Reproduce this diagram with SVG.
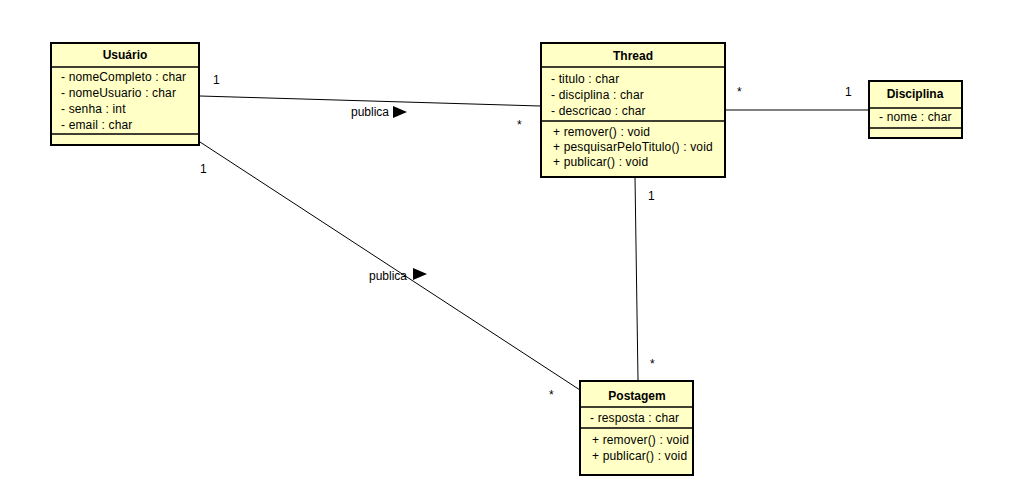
<svg xmlns="http://www.w3.org/2000/svg" width="1012" height="495" viewBox="0 0 1012 495">
  <style>
    .box { fill: #FFFFC6; stroke: #000; stroke-width: 2; }
    .div { stroke: #000; stroke-width: 1.5; }
    .name { font-family: "Liberation Sans", Arial, sans-serif; font-size: 12px; font-weight: bold; text-anchor: middle; fill: #000; }
    .mem { font-family: "Liberation Sans", Arial, sans-serif; font-size: 12px; letter-spacing: 0.15px; fill: #000; }
    .edge { stroke: #000; stroke-width: 1; fill: none; }
    .lbl { font-family: "Liberation Sans", Arial, sans-serif; font-size: 12px; fill: #000; }
  </style>
  <rect width="1012" height="495" fill="#fff"/>

  <g id="connectors">
    <line class="edge" x1="200" y1="96" x2="540" y2="106"/>
    <line class="edge" x1="725" y1="110" x2="868" y2="110"/>
    <line class="edge" x1="635" y1="177" x2="638" y2="380"/>
    <line class="edge" x1="200" y1="142" x2="580" y2="390"/>
    <text class="lbl" x="351" y="116">publica</text>
    <polygon points="393,106 407,112 393,118" fill="#000"/>
    <text class="lbl" x="369" y="280">publica</text>
    <polygon points="413,268 427,274 413,280" fill="#000"/>
    <text class="lbl" x="213" y="84">1</text>
    <text class="lbl" x="517" y="129">*</text>
    <text class="lbl" x="737" y="96">*</text>
    <text class="lbl" x="845" y="96">1</text>
    <text class="lbl" x="200" y="173">1</text>
    <text class="lbl" x="549" y="399">*</text>
    <text class="lbl" x="648" y="200">1</text>
    <text class="lbl" x="650" y="368">*</text>
  </g>

  <g id="usuario">
    <rect class="box" x="51" y="43" width="148" height="102"/>
    <line class="div" x1="51" y1="67" x2="199" y2="67"/>
    <line class="div" x1="51" y1="134" x2="199" y2="134"/>
    <text class="name" x="125" y="59">Usuário</text>
    <text class="mem" x="61" y="81">- nomeCompleto : char</text>
    <text class="mem" x="61" y="97">- nomeUsuario : char</text>
    <text class="mem" x="61" y="113">- senha : int</text>
    <text class="mem" x="61" y="129">- email : char</text>
  </g>

  <g id="thread">
    <rect class="box" x="541" y="43" width="184" height="134"/>
    <line class="div" x1="541" y1="67" x2="725" y2="67"/>
    <line class="div" x1="541" y1="121" x2="725" y2="121"/>
    <text class="name" x="633" y="60">Thread</text>
    <text class="mem" x="551" y="83">- titulo : char</text>
    <text class="mem" x="551" y="99">- disciplina : char</text>
    <text class="mem" x="551" y="115">- descricao : char</text>
    <text class="mem" x="553" y="136">+ remover() : void</text>
    <text class="mem" x="553" y="151">+ pesquisarPeloTitulo() : void</text>
    <text class="mem" x="553" y="166">+ publicar() : void</text>
  </g>

  <g id="disciplina">
    <rect class="box" x="869" y="81" width="93" height="57"/>
    <line class="div" x1="869" y1="108" x2="962" y2="108"/>
    <line class="div" x1="869" y1="128" x2="962" y2="128"/>
    <text class="name" x="915" y="98">Disciplina</text>
    <text class="mem" x="879" y="121">- nome : char</text>
  </g>

  <g id="postagem">
    <rect class="box" x="580" y="381" width="113" height="94"/>
    <line class="div" x1="580" y1="407" x2="693" y2="407"/>
    <line class="div" x1="580" y1="428" x2="693" y2="428"/>
    <text class="name" x="637" y="400">Postagem</text>
    <text class="mem" x="590" y="422">- resposta : char</text>
    <text class="mem" x="592" y="444">+ remover() : void</text>
    <text class="mem" x="592" y="460">+ publicar() : void</text>
  </g>
</svg>
